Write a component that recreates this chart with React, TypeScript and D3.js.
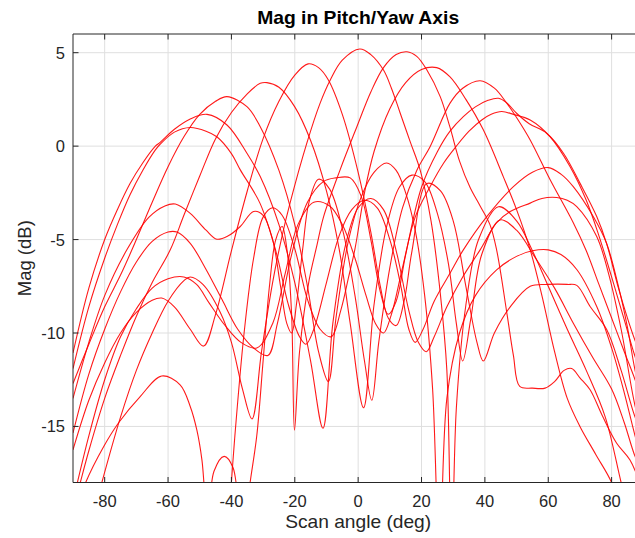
import React from 'react';
import * as d3 from 'd3';

type P = [number, number];

const xTicks = [-80, -60, -40, -20, 0, 20, 40, 60, 80];
const yTicks = [-15, -10, -5, 0, 5];

const beamM53: P[] = [[-90,-11.9],[-85,-8.6],[-80,-6.0],[-76,-4.2],[-72,-2.6],[-68,-1.3],[-64,-0.2],[-62.5,0.1],[-58,0.75],[-53,1.0],[-48,0.8],[-44.6,0.5],[-40,-0.4],[-37.2,-1.27],[-31,-3.05],[-26,-5.6],[-22,-8.5],[-18.5,-10.2],[-16.5,-10.6],[-14,-9.8],[-10,-7.3],[-6,-4.8],[-2,-3.4],[2,-2.9],[6,-3.3],[10,-5],[13.5,-7.5],[16,-9.8],[18,-10.5],[20.5,-9.8],[24,-8.3],[29,-6.8],[33.2,-5.55],[40.6,-3.77],[49,-2.17],[55,-1.4],[60,-1.15],[64,-1.5],[67.9,-2.17],[74.2,-3.77],[78.4,-5.2],[82,-7.4],[85,-9.7],[87.4,-12.0],[90,-13.8]];
const beamM48: P[] = [[-90,-11.07],[-85,-7.6],[-80,-5.0],[-76,-3.4],[-72,-2.0],[-68,-0.9],[-64,0.0],[-62.5,0.2],[-58,0.9],[-53,1.45],[-47.7,1.7],[-41.4,1.13],[-35.1,-0.38],[-30.9,-1.63],[-25,-4.2],[-20,-7.3],[-15,-11.5],[-11.1,-15.1],[-8,-9.5],[-4,-5.3],[0,-3.3],[4,-2.8],[8,-3.4],[12,-5.6],[16,-8.8],[19,-10.5],[21.5,-11],[24,-10.2],[28,-8.6],[33,-7],[38.5,-5.55],[43.7,-4.1],[48,-3.5],[54.3,-3.05],[58,-2.8],[62.7,-2.75],[66,-2.9],[69,-3.24],[75.3,-4.84],[79,-6.8],[83,-9.8],[87.4,-13.9],[90,-15.5]];
const beamM41: P[] = [[-90,-12.7],[-85,-10.6],[-80,-8.6],[-75,-6.9],[-71.4,-5.55],[-65,-3.0],[-60,-1.1],[-55,0.5],[-50,1.7],[-45,2.4],[-41.4,2.65],[-35.1,2.11],[-30.9,1.04],[-25,-1.3],[-20,-4.2],[-16,-7.5],[-12.5,-11],[-9.4,-12.6],[-7,-9.2],[-3,-5],[1,-2.7],[5,-1.4],[9,-0.9],[12,-1.3],[15,-2.5],[18,-4.5],[21,-8],[23.5,-13],[25.7,-22],[28,-13.5],[32,-10],[37,-8],[43.7,-6.62],[50,-5.9],[55,-5.6],[60,-5.55],[64,-5.8],[69,-6.6],[75.3,-8.58],[80,-10.8],[84,-13.2],[87.4,-15.5],[90,-17]];
const beamM29: P[] = [[-90,-19.5],[-87.7,-18],[-85,-16.3],[-80,-13.5],[-75,-11.2],[-70,-9.1],[-65,-7.3],[-59.3,-5.55],[-55,-3.7],[-50,-1.6],[-45,0.4],[-40,1.8],[-35,2.8],[-30.9,3.36],[-28.8,3.4],[-25,3.15],[-20,2.1],[-15,0.3],[-10,-2.4],[-6,-5.5],[-2.5,-9.5],[1.7,-14],[5,-8.5],[9,-4.3],[13,-2.2],[17,-1.55],[21,-1.9],[25,-3.6],[28.5,-6.3],[31,-9.5],[33,-11.5],[35.5,-9.3],[39,-5.8],[44.8,-3.95],[50,-4.5],[56,-6],[62,-7.6],[68,-9.5],[74,-11.3],[80,-13],[84,-14.8],[87.4,-16.6],[90,-17.5]];
const beamM16: P[] = [[-90,-16.25],[-85,-13.6],[-80,-11.6],[-75,-10],[-70,-8.9],[-65,-8.25],[-62,-8.13],[-58,-8.6],[-53,-9.8],[-48.8,-10.7],[-45,-9],[-40,-5.6],[-35,-2.4],[-30,0.4],[-25,2.4],[-20,3.8],[-15.8,4.4],[-12.5,4.2],[-9.4,3.54],[-5,1.7],[0,-1.4],[4,-4.6],[7,-7.5],[9.5,-9.2],[12,-9.6],[14.5,-8.3],[17,-5.6],[21.7,-2.0],[26,-2.4],[30,-4],[34,-7.5],[37.5,-10.5],[39.5,-11.5],[43,-10],[48,-8.6],[54.3,-7.5],[60,-7.4],[66,-7.4],[69,-7.45],[73.2,-8.58],[78.4,-9.8],[83,-12],[87.4,-14.5],[90,-15.5]];
const beam0: P[] = [[-90,-24],[-84,-20],[-80.9,-18],[-75,-14.5],[-70,-12],[-65,-10],[-60,-8.3],[-55,-7.2],[-53,-7.0],[-49,-7.4],[-43.5,-8.9],[-40,-10.5],[-36.5,-13],[-33.5,-14.6],[-30.5,-11],[-27,-7.3],[-24,-4.8],[-21.5,-3.05],[-16.2,0.16],[-12,2.3],[-8.8,3.54],[-5,4.6],[0.5,5.2],[4,4.9],[8,4.07],[10.5,3.1],[13.2,1.8],[16.5,0.2],[19.6,-1.3],[23,-4],[26,-8],[28,-12],[29.5,-22],[31,-14],[34,-8.5],[38,-5],[44.3,-3.24],[50,-4.0],[55,-5.6],[60,-7.5],[66,-9.8],[72,-12],[78,-14.5],[83,-18],[86,-20]];
const beamP15: P[] = [[-90,-20],[-86,-18],[-80.3,-16.07],[-75.6,-14.8],[-68.8,-13.4],[-62,-12.3],[-56.2,-12.77],[-53,-13.93],[-50.9,-15.2],[-49.3,-16.8],[-47.5,-20],[-45.5,-17.4],[-42.3,-16.6],[-39.5,-17.2],[-36.5,-21],[-34.1,-18],[-32,-15.5],[-30,-11.5],[-28,-7.5],[-26,-5],[-24,-4.3],[-22.5,-5.5],[-21,-9],[-20.1,-15.2],[-18.5,-11],[-15.5,-7.2],[-13,-5.3],[-10.9,-3.77],[-5.7,-1.27],[-0.4,1.04],[4,2.9],[8,4.2],[12,4.9],[15.4,5.05],[18.5,4.8],[21.7,4.07],[25.9,2.65],[29,1.0],[32,-0.8],[35.3,-2.2],[38.5,-3.2],[41.6,-4.2],[43.7,-5.55],[47,-9],[49,-11.2],[51,-12.86],[55,-12.95],[59,-12.95],[62,-12.6],[65,-12.0],[67.4,-11.9],[70,-12.4],[73.2,-13.04],[77,-14.4],[81.6,-15.9],[85.8,-16.8],[90,-18.5]];
const beamP25: P[] = [[-90,-26],[-70,-24],[-55,-22],[-46,-21],[-42,-23],[-40,-18],[-39,-15.7],[-36,-10],[-33,-6],[-30,-3.8],[-27,-3.3],[-24,-3.7],[-20,-5.5],[-16,-8.2],[-12,-9.8],[-8.5,-10.2],[-5.5,-8.8],[-3,-7],[-1,-5.5],[2,-2.5],[5,-0.3],[10,2.0],[15,3.4],[20,4.1],[24.8,4.2],[29,3.7],[34,2.5],[39.5,0.87],[45.8,-1.63],[50,-3.4],[54.3,-5.55],[58,-8],[62,-11],[66,-13.5],[70,-15],[75,-16.5],[80,-18],[84,-20]];
const beamP38: P[] = [[-90,-13.5],[-85,-10.5],[-80,-8.0],[-73,-5.55],[-66,-3.8],[-61,-3.2],[-57.7,-3.1],[-53,-3.6],[-48,-4.5],[-44.6,-4.98],[-41,-4.8],[-37.2,-4.3],[-33,-3.5],[-30,-3.7],[-27,-5],[-24.5,-7.5],[-22.5,-9.5],[-21,-10],[-19.5,-8.5],[-17.5,-5.5],[-15.5,-3],[-12.5,-1.77],[-9,-2.3],[-5,-4.4],[-1,-8],[2,-11.5],[4.3,-13.6],[6.5,-10.5],[10,-6.5],[14,-3.3],[18.5,-1.3],[22.7,-0.03],[29,2.3],[33,3.1],[38.5,3.5],[43,3.1],[46.9,2.3],[50.5,1.4],[54.3,0.33],[60.6,-1.8],[67.9,-4.1],[72,-5.6],[76,-7.4],[80,-9.2],[84,-11],[87.4,-12.5],[90,-13.8]];
const beamP44: P[] = [[-90,-15.35],[-85,-12.2],[-80,-9.8],[-75,-7.8],[-70,-6.2],[-65,-5.1],[-60,-4.6],[-57.2,-4.6],[-53,-5.2],[-48,-6.6],[-43,-8.2],[-38,-9.8],[-33,-10.8],[-28.5,-11.2],[-25.5,-9.5],[-21,-5.8],[-16,-3],[-11,-1.9],[-7,-1.7],[-2.5,-1.7],[1,-2.7],[4,-5],[7,-7.8],[9.5,-9],[12,-8.3],[15,-5.8],[20,-2.2],[25,-0.3],[29,0.8],[33.2,1.58],[37,2.1],[41,2.45],[44.3,2.56],[47,2.3],[50,1.76],[54,1.2],[59.5,0.69],[64.8,-0.38],[70,-1.98],[75.3,-3.77],[78.4,-5.2],[82,-7.5],[85,-9.2],[87.4,-10.4],[90,-11.5]];
const beamP45: P[] = [[-90,-19],[-85,-15.5],[-80,-12.5],[-75,-10.2],[-70,-8.7],[-65,-7.6],[-60,-7.1],[-55,-7.0],[-51,-7.4],[-47,-8.4],[-42,-9.6],[-37,-10.5],[-32,-10.8],[-27,-9.5],[-23,-6.8],[-19,-4.2],[-14,-3],[-9,-3.2],[-5,-4.2],[-1,-6],[2.5,-8],[5.5,-9.5],[8,-10],[10.5,-9],[14,-6.5],[18,-3.8],[22.7,-2.17],[27,-0.9],[31,0.0],[35,0.8],[39,1.4],[42,1.7],[45.3,1.85],[49,1.7],[54.3,1.4],[60.6,0.5],[66.9,-1.1],[72,-2.9],[76,-4.8],[80,-7.0],[84,-9.3],[87.4,-11.26],[90,-12.5]];

const series: P[][] = [beamM53, beamM48, beamM41, beamM29, beamM16, beam0, beamP15, beamP25, beamP38, beamP44, beamP45];

const W = 635;
const H = 538;
const L = 73;
const T = 34;
const R = 643.3;
const B = 482.5;

export default function App() {
  const x = d3.scaleLinear().domain([-90, 90]).range([L, R]);
  const y = d3.scaleLinear().domain([-18, 6]).range([B, T]);
  const line = d3.line<P>().x(d => x(d[0])).y(d => y(d[1])).curve(d3.curveCatmullRom.alpha(0.5));
  const font = "'Liberation Sans', Arial, Helvetica, sans-serif";
  const axisColor = '#262626';
  const gridColor = '#dfdfdf';
  return (
    <svg width={W} height={H} style={{ position: 'fixed', left: 0, top: 0, background: '#fff' }} fontFamily={font}>
      <defs>
        <clipPath id="plotClip">
          <rect x={L} y={T} width={R - L} height={B - T} />
        </clipPath>
      </defs>
      <rect x={0} y={0} width={W} height={H} fill="#fff" />
      {xTicks.map(t => (
        <line key={'gx' + t} x1={x(t)} x2={x(t)} y1={T} y2={B} stroke={gridColor} strokeWidth={1} />
      ))}
      {yTicks.map(t => (
        <line key={'gy' + t} x1={L} x2={R} y1={y(t)} y2={y(t)} stroke={gridColor} strokeWidth={1} />
      ))}
      <g clipPath="url(#plotClip)">
        {series.map((s, i) => (
          <path key={i} d={line(s) || ''} fill="none" stroke="#ff0000" strokeWidth={1.1} strokeOpacity={0.9} />
        ))}
      </g>
      <line x1={L} x2={L} y1={T} y2={B} stroke={axisColor} strokeWidth={1} />
      <line x1={L} x2={R} y1={T} y2={T} stroke={axisColor} strokeWidth={1} />
      <line x1={L} x2={R} y1={B} y2={B} stroke={axisColor} strokeWidth={1} />
      {xTicks.map(t => (
        <g key={'tx' + t}>
          <line x1={x(t)} x2={x(t)} y1={B} y2={B - 5.5} stroke={axisColor} />
          <line x1={x(t)} x2={x(t)} y1={T} y2={T + 5.5} stroke={axisColor} />
          <text x={x(t)} y={B + 24.5} textAnchor="middle" fontSize={16.5} fill={axisColor}>{t}</text>
        </g>
      ))}
      {yTicks.map(t => (
        <g key={'ty' + t}>
          <line x1={L} x2={L + 5.5} y1={y(t)} y2={y(t)} stroke={axisColor} />
          <text x={L - 8} y={y(t) + 6} textAnchor="end" fontSize={16.5} fill={axisColor}>{t}</text>
        </g>
      ))}
      <text x={(L + R) / 2} y={24} textAnchor="middle" fontSize={18.5} fontWeight="bold" fill="#000" textLength={202} lengthAdjust="spacingAndGlyphs">Mag in Pitch/Yaw Axis</text>
      <text x={(L + R) / 2} y={528} textAnchor="middle" fontSize={18.5} fill={axisColor} textLength={146} lengthAdjust="spacingAndGlyphs">Scan angle (deg)</text>
      <text transform={`translate(31,${(T + B) / 2}) rotate(-90)`} textAnchor="middle" fontSize={18.5} fill={axisColor}>Mag (dB)</text>
    </svg>
  );
}
